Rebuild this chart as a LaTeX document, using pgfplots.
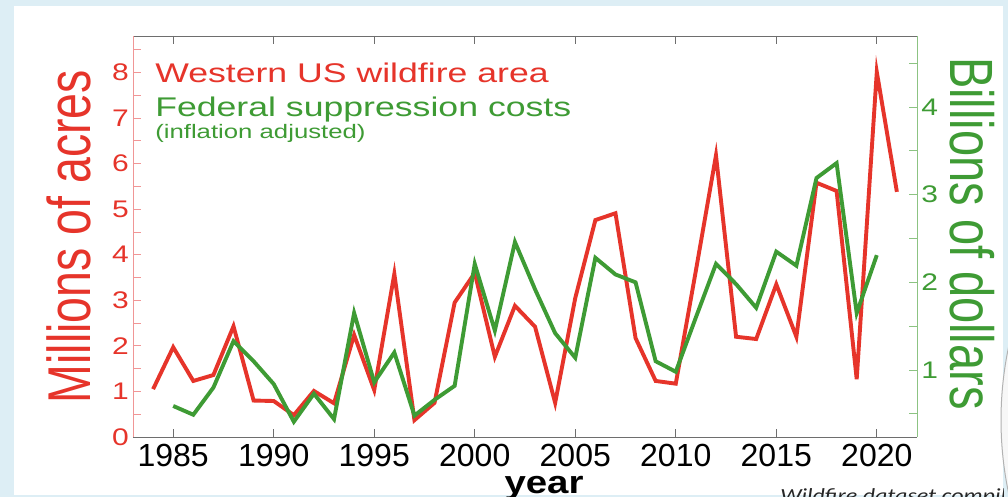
\documentclass[border=0pt]{standalone}
\usepackage{pgfplots}
\pgfplotsset{compat=1.18}
\usepackage{fontspec}
\setmainfont{Liberation Sans}
\newfontfamily\notefont{Carlito}

\definecolor{bgblue}{RGB}{221,238,245}
\definecolor{firered}{RGB}{230,52,42}
\definecolor{costgreen}{RGB}{62,155,52}
\definecolor{redspine}{RGB}{240,150,150}
\definecolor{greenspine}{RGB}{140,195,130}
\definecolor{axisgray}{RGB}{110,110,110}

\pgfplotsset{
  frame/.style={
    at={(133pt,60pt)}, anchor=south west,
    scale only axis, width=784pt, height=401pt,
    xmin=1983, xmax=2022,
    tick align=inside,
    major tick length=8pt, minor tick length=8pt,
    /pgf/number format/assume math mode=true,
    /pgf/number format/1000 sep={},
  },
}

\begin{document}
\begin{tikzpicture}
\useasboundingbox (0,0) rectangle (1008pt,497pt);
\clip (0,0) rectangle (1008pt,497pt);
\fill[bgblue] (0,0) rectangle (1008pt,497pt);
\fill[white] (14pt,2pt) rectangle (1003pt,491pt);
\filldraw[fill=gray!6, draw=gray!60, line width=1pt] (1354pt,77pt) circle (353pt);

% left axis: burned area
\begin{axis}[frame,
  ymin=0, ymax=8.8,
  axis x line*=box, axis y line*=left,
  separate axis lines,
  x axis line style={draw=axisgray, line width=0.8pt},
  y axis line style={draw=redspine, line width=0.8pt},
  xtick={1985,1990,...,2020},
  ytick={0,1,...,8}, minor ytick={0.5,1.5,...,8.5},
  x tick style={draw=axisgray, line width=0.8pt},
  y tick style={draw=redspine, line width=0.8pt},
  xticklabel style={font=\fontsize{32}{36}\selectfont, text=black, inner sep=0pt, yshift=-7pt},
  yticklabel style={font=\fontsize{24}{28}\selectfont, text=firered, inner sep=0pt, xshift=-4pt, xscale=1.25},
]
\addplot[firered, line width=3.9pt] coordinates {
  (1984,1.05) (1985,1.97) (1986,1.23) (1987,1.36) (1988,2.43) (1989,0.80)
  (1990,0.79) (1991,0.48) (1992,1.01) (1993,0.74) (1994,2.24) (1995,1.03)
  (1996,3.58) (1997,0.37) (1998,0.75) (1999,2.95) (2000,3.60) (2001,1.76)
  (2002,2.88) (2003,2.42) (2004,0.75) (2005,3.05) (2006,4.76) (2007,4.91)
  (2008,2.17) (2009,1.23) (2010,1.17) (2011,3.65) (2012,6.18) (2013,2.20)
  (2014,2.15) (2015,3.35) (2016,2.20) (2017,5.58) (2018,5.40) (2019,1.27)
  (2020,8.01) (2021,5.38)
};
\end{axis}

% right axis: suppression costs
\begin{axis}[frame,
  ymin=0.236, ymax=4.81,
  axis x line=none, axis y line*=right,
  y axis line style={draw=greenspine, line width=0.8pt},
  ytick={1,2,3,4}, minor ytick={0.5,1.5,2.5,3.5,4.5},
  y tick style={draw=greenspine, line width=0.8pt},
  yticklabel style={font=\fontsize{24}{28}\selectfont, text=costgreen, inner sep=0pt, xshift=4pt, xscale=1.25},
]
\addplot[costgreen, line width=3.9pt] coordinates {
  (1985,0.59) (1986,0.49) (1987,0.80) (1988,1.33) (1989,1.10) (1990,0.84)
  (1991,0.41) (1992,0.73) (1993,0.44) (1994,1.65) (1995,0.86) (1996,1.20)
  (1997,0.48) (1998,0.66) (1999,0.82) (2000,2.21) (2001,1.45) (2002,2.46)
  (2003,1.92) (2004,1.42) (2005,1.14) (2006,2.28) (2007,2.09) (2008,2.00)
  (2009,1.10) (2010,0.98) (2011,1.60) (2012,2.21) (2013,1.98) (2014,1.71)
  (2015,2.35) (2016,2.19) (2017,3.19) (2018,3.36) (2019,1.65) (2020,2.31)
};
\end{axis}

% legend-like titles
\node[anchor=base west, inner sep=0pt, text=firered, xscale=1.32,
  font=\fontsize{27}{30}\selectfont] at (155pt,414pt) {Western US wildfire area};
\node[anchor=base west, inner sep=0pt, text=costgreen, xscale=1.32,
  font=\fontsize{27}{30}\selectfont] at (155pt,380pt) {Federal suppression costs};
\node[anchor=base west, inner sep=0pt, text=costgreen, xscale=1.32,
  font=\fontsize{19.5}{22}\selectfont] at (155pt,358pt) {(inflation adjusted)};

% axis titles
\node[rotate=90, yscale=1.3, anchor=base, inner sep=0pt, text=firered,
  font=\fontsize{46.5}{50}\selectfont] at (90pt,260.5pt) {Millions of acres};
\node[rotate=-90, yscale=1.3, anchor=base, inner sep=0pt, text=costgreen,
  font=\fontsize{47}{50}\selectfont] at (950pt,263.5pt) {Billions of dollars};
\node[anchor=base, inner sep=0pt, xscale=1.2, text height=17pt, text depth=6pt,
  font=\bfseries\fontsize{32}{36}\selectfont] at (544pt,3pt) {year};

\begin{scope}
\clip (0,0) rectangle (1003pt,497pt);
\node[anchor=base west, inner sep=0pt, xscale=1.2, text=black!85,
  font=\notefont\itshape\fontsize{20}{24}\selectfont] at (780pt,-6pt) {Wildfire dataset compiled};
\end{scope}
\end{tikzpicture}
\end{document}
